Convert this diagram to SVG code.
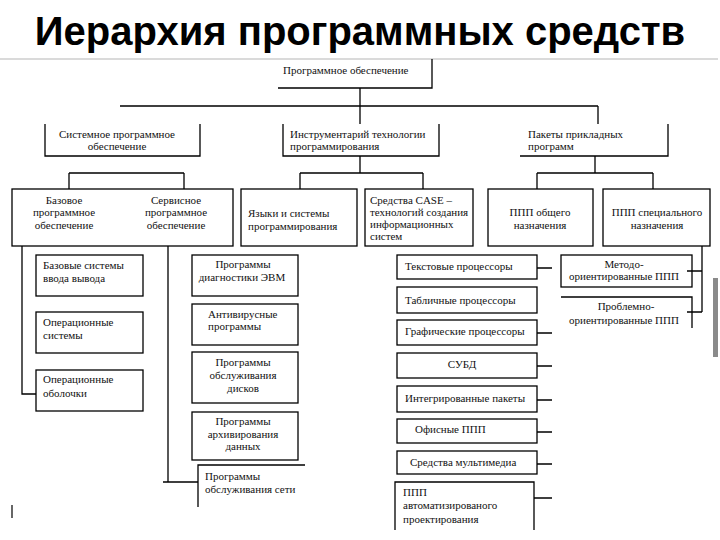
<svg xmlns="http://www.w3.org/2000/svg" width="720" height="540" viewBox="0 0 720 540">
<style>
.b{fill:none;stroke:#000;stroke-width:1.3}
.l{fill:none;stroke:#000;stroke-width:1.3}
.t{font-family:"Liberation Serif","Times New Roman",serif;font-size:11px;fill:#111}
.c{text-anchor:middle}
.h{font-family:"Liberation Sans",Arial,sans-serif;font-weight:bold;font-size:40px;fill:#000;text-anchor:middle}
</style>
<rect width="720" height="540" fill="#fff"/>
<text class="h" x="360" y="45">Иерархия программных средств</text>
<line x1="0" y1="59" x2="718" y2="59" stroke="#b5b5b5" stroke-width="1.2"/>
<rect x="713" y="278" width="5" height="79" fill="#8a8a8a"/>
<line x1="12" y1="505" x2="12" y2="518" stroke="#000" stroke-width="1.2"/>

<g id="connectors" class="l">
<path d="M360,88V124M120,106H598M598,106V124"/>
<path d="M360,156V173M300,173H423M300,173V189M423,173V189"/>
<path d="M69,173H184M69,173V189M184,173V189"/>
<path d="M595,156V173M537,173H653M537,173V189M653,173V189"/>
<path d="M22,246V394H36"/>
<path d="M168,246V482M163,482H198"/>
<path d="M537,268H552M537,333H552M537,366H552M537,400H552M537,432H552M537,464H552M534,498H552"/>
<path d="M702,246V312M687,271H702M687,312H702"/>
</g>

<g id="n-root"><path class="b" d="M278,88H432V59"/><text class="t" x="283" y="74">Программное обеспечение</text></g>

<g id="n-system"><path class="b" d="M45,124V156H200V124"/><text class="t c" x="117" y="138">Системное программное</text><text class="t c" x="117" y="150">обеспечение</text></g>
<g id="n-tools"><path class="b" d="M283,124V156H439V124"/><text class="t" x="290" y="138">Инструментарий технологии</text><text class="t" x="290" y="150">программирования</text></g>
<g id="n-apps"><path class="b" d="M520,156H668V124"/><text class="t" x="528" y="138">Пакеты прикладных</text><text class="t" x="528" y="150">программ</text></g>

<g id="n-base-service"><rect class="b" x="12" y="189" width="221" height="57"/>
<text class="t c" x="64" y="204">Базовое</text><text class="t c" x="64" y="216">программное</text><text class="t c" x="64" y="229">обеспечение</text>
<text class="t c" x="176" y="204">Сервисное</text><text class="t c" x="176" y="216">программное</text><text class="t c" x="176" y="229">обеспечение</text></g>
<g id="n-lang"><rect class="b" x="241" y="189" width="116" height="57"/><text class="t" x="248" y="217">Языки и системы</text><text class="t" x="248" y="230">программирования</text></g>
<g id="n-case"><rect class="b" x="365" y="189" width="108" height="57"/><text class="t" x="370" y="204">Средства CASE –</text><text class="t" x="370" y="216">технологий создания</text><text class="t" x="370" y="228">информационных</text><text class="t" x="370" y="240">систем</text></g>
<g id="n-general"><rect class="b" x="488" y="189" width="105" height="57"/><text class="t c" x="540" y="216">ППП общего</text><text class="t c" x="540" y="229">назначения</text></g>
<g id="n-special"><rect class="b" x="603" y="189" width="107" height="57"/><text class="t c" x="657" y="216">ППП специального</text><text class="t c" x="657" y="229">назначения</text></g>

<g id="n-bios"><rect class="b" x="36" y="255" width="107" height="41"/><text class="t" x="43" y="269">Базовые системы</text><text class="t" x="43" y="282">ввода вывода</text></g>
<g id="n-os"><rect class="b" x="36" y="312" width="107" height="41"/><text class="t" x="43" y="326">Операционные</text><text class="t" x="43" y="339">системы</text></g>
<g id="n-shell"><rect class="b" x="36" y="370" width="107" height="41"/><text class="t" x="43" y="383">Операционные</text><text class="t" x="43" y="397">оболочки</text></g>

<g id="n-diag"><rect class="b" x="192" y="255" width="106" height="41"/><text class="t c" x="243" y="268">Программы</text><text class="t c" x="242" y="281">диагностики ЭВМ</text></g>
<g id="n-av"><rect class="b" x="192" y="304" width="106" height="41"/><text class="t" x="208" y="318">Антивирусные</text><text class="t" x="208" y="330">программы</text></g>
<g id="n-disk"><rect class="b" x="192" y="352" width="106" height="51"/><text class="t c" x="243" y="366">Программы</text><text class="t c" x="243" y="379">обслуживания</text><text class="t c" x="243" y="392">дисков</text></g>
<g id="n-arch"><rect class="b" x="192" y="412" width="106" height="48"/><text class="t c" x="243" y="425">Программы</text><text class="t c" x="243" y="438">архивирования</text><text class="t c" x="243" y="450">данных</text></g>
<g id="n-net"><path class="b" d="M198,507V465H305"/><text class="t" x="205" y="480">Программы</text><text class="t" x="205" y="493">обслуживания сети</text></g>

<g id="n-text"><rect class="b" x="397" y="255" width="140" height="24"/><text class="t" x="405" y="270">Текстовые процессоры</text></g>
<g id="n-table"><rect class="b" x="397" y="287" width="140" height="26"/><text class="t" x="405" y="304">Табличные процессоры</text></g>
<g id="n-graph"><rect class="b" x="397" y="320" width="140" height="25"/><text class="t" x="405" y="335">Графические процессоры</text></g>
<g id="n-dbms"><rect class="b" x="397" y="353" width="140" height="25"/><text class="t c" x="462" y="368">СУБД</text></g>
<g id="n-integr"><rect class="b" x="397" y="386" width="140" height="26"/><text class="t" x="405" y="402">Интегрированные пакеты</text></g>
<g id="n-office"><rect class="b" x="397" y="419" width="140" height="24"/><text class="t" x="415" y="433">Офисные  ППП</text></g>
<g id="n-media"><rect class="b" x="397" y="451" width="140" height="23"/><text class="t" x="410" y="466">Средства  мультимедиа</text></g>
<g id="n-cad"><path class="b" d="M395,530V482H534V530"/><text class="t" x="403" y="496">ППП</text><text class="t" x="403" y="509">автоматизированого</text><text class="t" x="403" y="523">проектирования</text></g>

<g id="n-method"><rect class="b" x="561" y="255" width="131" height="32"/><text class="t c" x="624" y="268">Методо-</text><text class="t c" x="624" y="280">ориентированные ППП</text></g>
<g id="n-problem"><path class="b" d="M561,297H692V328"/><text class="t c" x="626" y="310">Проблемно-</text><text class="t c" x="624" y="324">ориентированные ППП</text></g>
</svg>
